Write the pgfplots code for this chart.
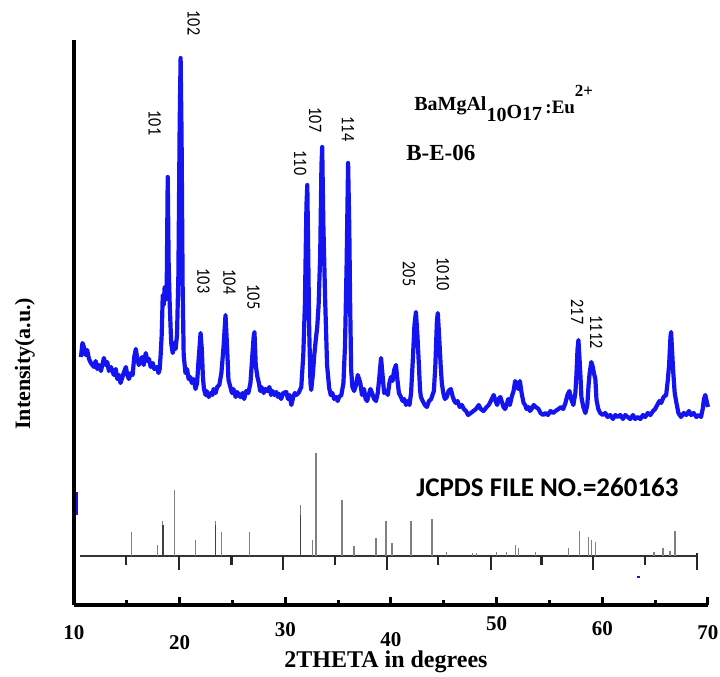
\documentclass[border=0pt]{standalone}
\usepackage{graphicx}
\usepackage{pgfplots}
\pgfplotsset{compat=1.18}
\usepackage{fontspec}
\setmainfont{Liberation Serif}
\newfontfamily\calibri{Carlito}
\newcommand{\pk}[1]{{\calibri\fontsize{9.5}{10}\selectfont\scalebox{0.85}[1]{#1}}}
\begin{document}
\begin{tikzpicture}
\begin{axis}[
  at={(0,0)}, anchor=south west,
  scale only axis, width=317pt, height=282.5pt,
  xmin=10, xmax=70, ymin=0, ymax=565,
  clip=false,
  axis x line*=bottom, axis y line*=left,
  axis line style={line width=2.2pt, -},
  xtick={10,20,...,70},
  minor xtick={15,25,...,65},
  ytick=\empty,
  tick align=inside,
  major tick length=3.8pt,
  minor tick length=2.3pt,
  every tick/.style={black, line width=1.5pt},
  xticklabels={10,{\raisebox{-5pt}[\height]{20}},{\raisebox{1.5pt}[\height]{30}},{\raisebox{-3.5pt}[\height]{40}},{\raisebox{4.5pt}[\height]{50}},{\raisebox{2pt}[\height]{60}},70},
  xticklabel style={font=\bfseries\fontsize{10.5}{12}\selectfont, yshift=-6.5pt},
  /pgf/number format/assume math mode=true,
  xlabel={2THETA in degrees},
  xlabel style={font=\bfseries\fontsize{12}{14}\selectfont, at={(axis description cs:0.492,-0.101)}, anchor=center},
  ylabel={Intensity(a.u.)},
  ylabel style={font=\bfseries\fontsize{11}{13}\selectfont, at={(axis description cs:-0.0773,0.427)}, anchor=center},
]
% measured XRD pattern
\addplot[color={rgb,255:red,20;green,20;blue,240}, line width=2.1pt, line join=round] coordinates {
(10.66,248)(10.80,262)(10.94,258)(11.10,250)(11.25,255)(11.42,246)(11.60,242)(11.89,238)(12.05,244)(12.20,236)
(12.36,240)(12.55,234)(12.83,247)(13.00,240)(13.15,243)(13.30,234)(13.50,238)(13.77,230)(13.95,236)(14.10,226)
(14.25,230)(14.40,222)(14.53,226)(14.70,232)(14.91,238)(15.05,230)(15.19,226)(15.40,232)(15.55,230)(15.70,248)
(15.85,256)(16.00,246)(16.13,240)(16.30,244)(16.45,248)(16.60,240)(16.79,252)(16.95,244)(17.10,246)(17.26,238)
(17.45,242)(17.60,236)(17.83,238)(18.00,232)(18.11,236)(18.20,250)(18.30,270)(18.40,310)(18.49,300)(18.58,318)
(18.68,305)(18.77,312)(18.87,428)(18.96,340)(19.06,300)(19.20,262)(19.34,252)(19.48,262)(19.62,256)(19.75,270)
(19.88,330)(20.00,480)(20.09,547)(20.18,470)(20.28,320)(20.38,250)(20.55,232)(20.70,236)(20.85,226)(21.00,228)
(21.15,222)(21.32,226)(21.50,216)(21.65,222)(21.79,245)(21.98,272)(22.10,255)(22.20,228)(22.30,216)(22.45,210)
(22.55,214)(22.75,208)(22.95,212)(23.10,210)(23.21,216)(23.40,212)(23.55,218)(23.75,220)(23.95,232)(24.15,258)
(24.34,290)(24.50,255)(24.62,225)(24.80,218)(24.95,212)(25.09,216)(25.30,208)(25.45,213)(25.60,210)(25.75,208)
(25.95,212)(26.10,206)(26.30,214)(26.50,212)(26.70,222)(26.85,245)(27.00,268)(27.08,273)(27.20,240)(27.36,228)
(27.50,222)(27.62,214)(27.74,218)(27.95,212)(28.10,216)(28.30,214)(28.49,218)(28.65,210)(28.80,214)(28.96,210)
(29.15,213)(29.30,208)(29.43,211)(29.60,206)(29.80,212)(30.09,213)(30.25,206)(30.40,210)(30.57,200)(30.75,208)
(30.90,212)(31.04,210)(31.25,212)(31.51,218)(31.70,250)(31.85,300)(32.00,400)(32.08,420)(32.18,340)(32.26,275)
(32.38,222)(32.45,215)(32.60,230)(32.74,250)(32.88,265)(33.02,278)(33.15,300)(33.30,350)(33.42,440)(33.49,458)
(33.60,380)(33.77,305)(33.95,240)(34.15,217)(34.30,210)(34.45,212)(34.62,206)(34.80,208)(34.95,204)(35.09,208)
(35.30,210)(35.50,222)(35.65,260)(35.80,340)(35.94,442)(36.05,380)(36.13,305)(36.23,235)(36.35,218)(36.51,214)
(36.70,220)(36.85,230)(36.98,226)(37.10,222)(37.25,210)(37.45,216)(37.60,206)(37.74,204)(37.90,210)(38.05,216)
(38.21,212)(38.40,206)(38.58,204)(38.75,212)(38.90,228)(39.06,247)(39.20,230)(39.35,212)(39.53,214)(39.70,210)
(39.85,222)(40.00,228)(40.15,224)(40.30,235)(40.47,240)(40.60,226)(40.75,212)(40.94,208)(41.10,204)(41.25,206)
(41.42,200)(41.60,204)(41.75,200)(41.90,212)(42.08,248)(42.22,280)(42.36,293)(42.50,270)(42.64,240)(42.75,215)
(42.83,208)(43.00,204)(43.20,200)(43.40,198)(43.60,204)(43.80,206)(44.06,214)(44.20,240)(44.35,285)(44.43,292)
(44.55,270)(44.70,240)(44.81,222)(44.95,212)(45.10,206)(45.28,208)(45.45,214)(45.66,216)(45.85,208)(46.00,204)
(46.13,202)(46.30,204)(46.50,198)(46.70,200)(46.89,196)(47.10,194)(47.30,190)(47.55,192)(47.80,194)(48.05,196)
(48.30,200)(48.50,196)(48.75,194)(49.06,198)(49.25,200)(49.45,204)(49.72,210)(49.90,204)(50.05,200)(50.19,206)
(50.35,208)(50.47,204)(50.65,198)(50.80,196)(50.94,200)(51.10,206)(51.25,200)(51.42,208)(51.60,214)(51.75,224)
(51.89,220)(52.05,216)(52.20,224)(52.36,212)(52.55,202)(52.70,200)(52.83,196)(53.00,198)(53.15,194)(53.30,196)
(53.50,200)(53.70,198)(53.96,196)(54.15,192)(54.40,190)(54.62,192)(54.85,190)(55.10,194)(55.35,192)(55.57,194)
(55.85,196)(56.10,198)(56.30,196)(56.51,202)(56.70,210)(56.89,214)(57.05,206)(57.26,200)(57.45,212)(57.55,230)
(57.65,255)(57.74,265)(57.85,245)(57.95,225)(58.02,208)(58.20,198)(58.40,192)(58.58,200)(58.70,220)(58.80,232)
(58.96,243)(59.10,238)(59.20,232)(59.34,226)(59.45,205)(59.62,196)(59.80,192)(60.05,190)(60.28,192)(60.50,188)
(60.75,190)(61.00,186)(61.23,190)(61.45,188)(61.70,190)(61.95,186)(62.17,190)(62.40,188)(62.65,186)(62.90,190)
(63.11,186)(63.35,188)(63.60,186)(63.85,190)(64.06,188)(64.30,192)(64.55,190)(64.80,194)(65.00,196)(65.20,200)
(65.40,204)(65.57,202)(65.80,208)(66.04,210)(66.20,225)(66.32,240)(66.45,268)(66.51,273)(66.60,255)(66.70,235)
(66.85,212)(66.98,204)(67.20,192)(67.45,188)(67.70,192)(67.95,190)(68.20,194)(68.40,190)(68.65,192)(68.90,188)
(69.15,190)(69.34,188)(69.50,196)(69.62,206)(69.75,210)(69.85,205)(70.00,198)
};
% reference (JCPDS) baseline
\addplot[color=black!80, line width=1.1pt] coordinates {(10.57,49)(68.96,49)};
% reference sticks
\addplot[color=black!50, line width=0.7pt, unbounded coords=jump] coordinates {
(15.47,49)(15.47,73)(15.47,nan)(17.92,49)(17.92,60)(17.92,nan)(18.40,49)(18.40,84)(18.40,nan)
(19.53,49)(19.53,115)(19.53,nan)(21.51,49)(21.51,65)(21.51,nan)(23.40,49)(23.40,84)(23.40,nan)
(23.96,49)(23.96,73)(23.96,nan)(26.60,49)(26.60,73)(26.60,nan)(31.42,49)(31.42,100)(31.42,nan)
(32.55,49)(32.55,65)(32.55,nan)(32.92,49)(32.92,152)(32.92,nan)(35.38,49)(35.38,105)(35.38,nan)
(36.51,49)(36.51,59)(36.51,nan)(38.58,49)(38.58,67)(38.58,nan)(39.53,49)(39.53,84)(39.53,nan)
(40.09,49)(40.09,62)(40.09,nan)(41.89,49)(41.89,84)(41.89,nan)(43.87,49)(43.87,86)(43.87,nan)
(45.28,49)(45.28,53)(45.28,nan)(47.74,49)(47.74,52)(47.74,nan)(48.11,49)(48.11,52)(48.11,nan)
(50.00,49)(50.00,53)(50.00,nan)(50.94,49)(50.94,53)(50.94,nan)(51.79,49)(51.79,60)(51.79,nan)
(52.08,49)(52.08,57)(52.08,nan)(53.68,49)(53.68,53)(53.68,nan)(56.79,49)(56.79,57)(56.79,nan)
(57.83,49)(57.83,74)(57.83,nan)(58.68,49)(58.68,68)(58.68,nan)(58.96,49)(58.96,65)(58.96,nan)
(59.34,49)(59.34,63)(59.34,nan)(64.91,49)(64.91,53)(64.91,nan)(65.75,49)(65.75,57)(65.75,nan)
(66.42,49)(66.42,54)(66.42,nan)(66.89,49)(66.89,74)
};
% darker lower parts of some sticks
\addplot[color=black!75, line width=0.8pt, unbounded coords=jump] coordinates {
(18.40,49)(18.40,80)(18.40,nan)(23.40,49)(23.40,80)(23.40,nan)(31.42,49)(31.42,90)
};
% reference scale ticks (downward)
\addplot[color=black!85, line width=1.1pt, unbounded coords=jump] coordinates {
(14.91,49)(14.91,40)(14.91,nan)(19.91,49)(19.91,35)(19.91,nan)(24.91,49)(24.91,40)(24.91,nan)
(29.81,49)(29.81,35)(29.81,nan)(34.72,49)(34.72,40)(34.72,nan)(39.62,49)(39.62,35)(39.62,nan)
(44.43,49)(44.43,40)(44.43,nan)(49.43,49)(49.43,35)(49.43,nan)(54.25,49)(54.25,40)(54.25,nan)
(59.15,49)(59.15,35)(59.15,nan)(64.06,49)(64.06,40)(64.06,nan)(68.96,52)(68.96,35)
};
% small blue marks
\addplot[color={rgb,255:red,20;green,20;blue,240}, line width=1.3pt] coordinates {(10.28,90)(10.28,113)};
\addplot[color={rgb,255:red,20;green,20;blue,240}, line width=0.8pt] coordinates {(63.3,28)(63.6,28)};
% peak labels
\node[rotate=-90] at (axis cs:17.64,482) {\pk{101}};
\node[rotate=-90] at (axis cs:21.32,582) {\pk{102}};
\node[rotate=-90] at (axis cs:22.26,324) {\pk{103}};
\node[rotate=-90] at (axis cs:24.72,323) {\pk{104}};
\node[rotate=-90] at (axis cs:26.98,308) {\pk{105}};
\node[rotate=-90] at (axis cs:31.42,442) {\pk{110}};
\node[rotate=-90] at (axis cs:32.83,485) {\pk{107}};
\node[rotate=-90] at (axis cs:35.94,476) {\pk{114}};
\node[rotate=-90] at (axis cs:41.70,331) {\pk{205}};
\node[rotate=-90] at (axis cs:44.91,331) {\pk{1010}};
\node[rotate=-90] at (axis cs:57.64,293) {\pk{217}};
\node[rotate=-90] at (axis cs:59.43,273) {\pk{1112}};
% annotations
\node[anchor=base west, inner sep=0, font=\bfseries] at (axis cs:42.17,495) {\fontsize{10}{12}\selectfont BaMgAl\raisebox{-5.8pt}{10}\raisebox{-4.2pt}{O}\raisebox{-5pt}{17}\,\raisebox{-1.7pt}{\fontsize{9.5}{10}\selectfont :Eu}\raisebox{6.7pt}{\fontsize{8.5}{10}\selectfont 2+}};
\node[anchor=base west, inner sep=0] at (axis cs:41.42,445) {\bfseries\fontsize{11.5}{13}\selectfont B-E-06};
\node[anchor=center, inner sep=0] at (axis cs:54.81,118) {\calibri\bfseries\fontsize{13.5}{15}\selectfont JCPDS FILE NO.=260163};
\end{axis}
\pgfresetboundingbox
\path (-37pt,-36pt) rectangle (323pt,302.5pt);
\end{tikzpicture}
\end{document}
